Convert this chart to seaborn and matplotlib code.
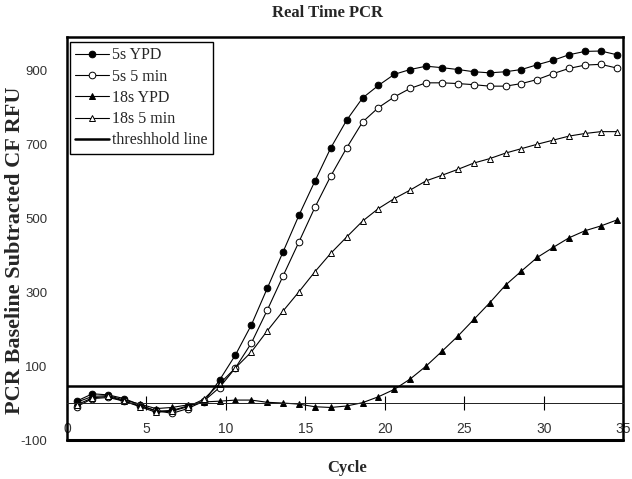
import numpy as np
import matplotlib
matplotlib.use("Agg")
import matplotlib.pyplot as plt
import seaborn as sns

cycles = list(range(1, 36))

yp_5s = [5, 25, 22, 12, -5, -22, -20, -8, 2, 62, 130, 211, 310, 409, 508, 600, 690, 765,
         825, 859, 889, 902, 911, 907, 902, 896, 893, 896, 902, 915, 927, 942, 951, 952, 942]
min5_5s = [-10, 12, 15, 5, -8, -20, -28, -15, 5, 42, 95, 162, 251, 344, 436, 529, 614, 690,
           760, 799, 828, 851, 866, 866, 864, 861, 857, 857, 864, 875, 891, 905, 914, 916, 906]
yp_18s = [2, 18, 20, 8, -3, -15, -12, -5, 3, 5, 8, 8, 2, 0, -3, -10, -12, -8,
          1, 17, 37, 65, 100, 140, 181, 226, 271, 319, 357, 394, 421, 447, 466, 479, 495]
min5_18s = [-5, 14, 18, 5, -10, -25, -22, -10, 10, 52, 95, 138, 195, 249, 301, 355, 405, 449,
            492, 526, 553, 576, 601, 616, 632, 649, 661, 676, 688, 700, 711, 722, 729, 734, 734]
threshold = 45

series_labels = ["5s YPD", "5s 5 min", "18s YPD", "18s 5 min"]
xticks = [0, 5, 10, 15, 20, 25, 30, 35]
yticks = [-100, 100, 300, 500, 700, 900]

sns.set_theme(style="white")
plt.rcParams["font.family"] = ["Liberation Sans", "DejaVu Sans"]

fig = plt.figure(figsize=(6.32, 4.79), dpi=100)
ax = fig.add_axes([0.106, 0.0814, 0.880, 0.8414])

xs = np.array(cycles) - 0.4
styles = [
    (yp_5s, "o", "black"),
    (min5_5s, "o", "white"),
    (yp_18s, "^", "black"),
    (min5_18s, "^", "white"),
]
for (vals, mk, fc), lab in zip(styles, series_labels):
    sns.lineplot(x=xs, y=vals, ax=ax, color="black", lw=0.8, marker=mk,
                 markersize=4.8, markerfacecolor=fc, markeredgecolor="black",
                 markeredgewidth=0.7, label=lab)

ax.axhline(threshold, color="black", lw=1.8, label="threshhold line")
ax.axhline(0, color="black", lw=0.7)

ax.set_xlim(0, 35)
ax.set_ylim(-100, 990)

# x axis crossing at zero
ax.spines["bottom"].set_position(("data", 0))
ax.spines["bottom"].set_linewidth(0.7)
ax.set_xticks(xticks)
ax.set_xticklabels([str(t) for t in xticks])
ax.tick_params(axis="x", direction="inout", length=10, width=0.8, color="black",
               pad=9, labelsize=10, labelcolor="#333333", bottom=True)
ax.set_yticks(yticks)
ax.set_yticklabels([str(t) for t in yticks])
ax.tick_params(axis="y", length=0, pad=14, labelsize=9.5, labelcolor="#333333")

for s in ["left", "top", "right"]:
    ax.spines[s].set_linewidth(1.8)
    ax.spines[s].set_color("black")
ax.plot([0, 1], [0, 0], transform=ax.transAxes, color="black", lw=2.2, clip_on=False)

serif = ["Liberation Serif", "DejaVu Serif"]
ax.set_ylabel("PCR Baseline Subtracted CF RFU", family=serif, fontsize=16,
              fontweight="bold")
ax.yaxis.set_label_coords(-0.075, 0.47)
fig.text(347 / 632, 1 - 468 / 479, "Cycle", family=serif, fontsize=12,
         fontweight="bold", ha="center", va="center")
fig.text(327 / 632, 1 - 13 / 479, "Real Time PCR", family=serif, fontsize=12,
         fontweight="bold", ha="center", va="center")

leg = ax.legend(loc="upper left", bbox_to_anchor=(0.005, 0.988), frameon=True,
                fancybox=False, edgecolor="black", framealpha=1,
                prop={"family": serif, "size": 11.5}, handlelength=2.1,
                handletextpad=0.2, labelspacing=0.33, borderpad=0.35,
                borderaxespad=0)
leg.get_frame().set_linewidth(1.0)

fig.savefig("out.png", dpi=100, facecolor="white")
